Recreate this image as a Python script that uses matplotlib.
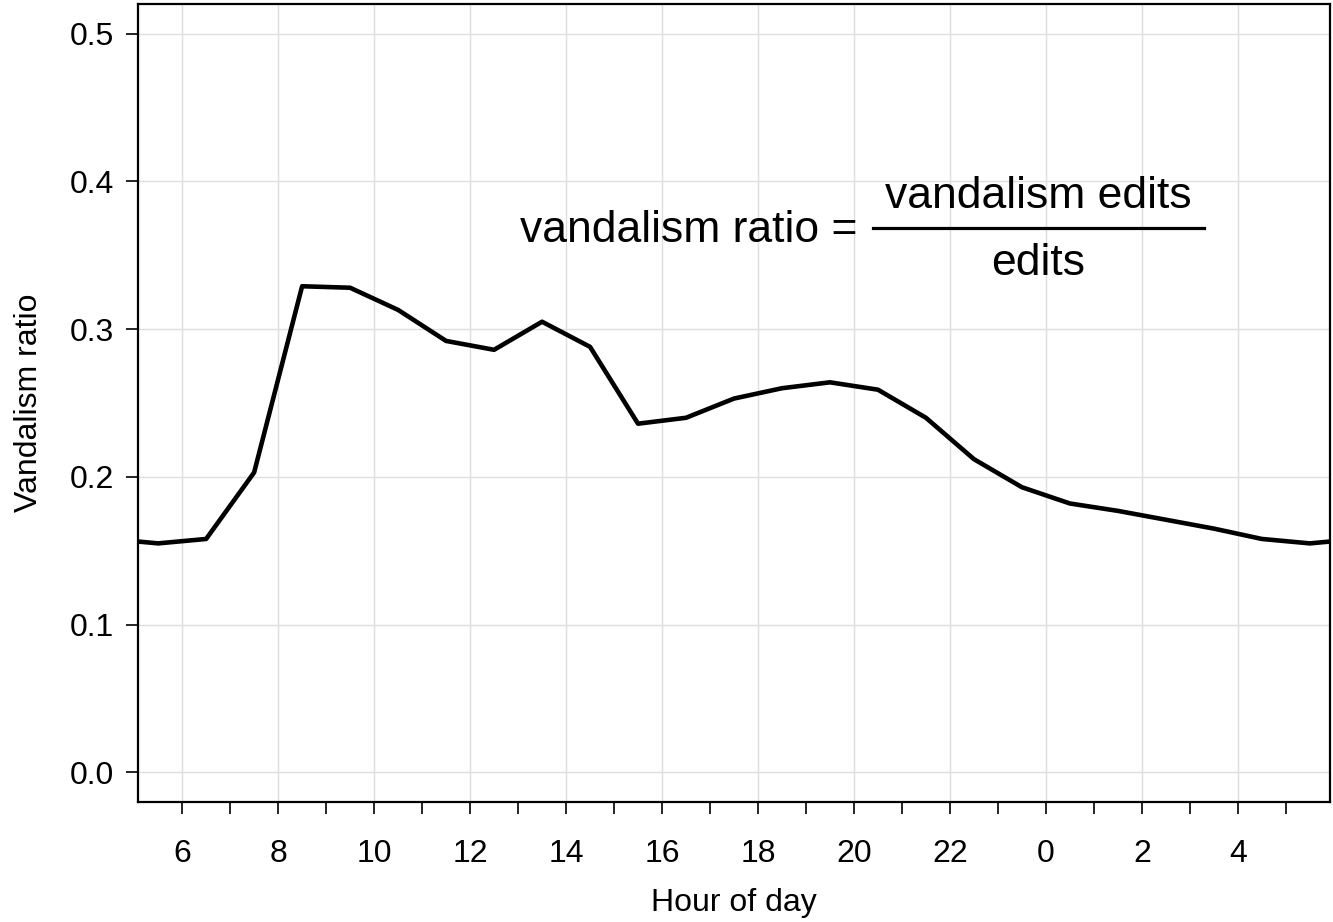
import numpy as np
import matplotlib
matplotlib.use("Agg")
import matplotlib.pyplot as plt

plt.rcParams['font.family'] = ['Liberation Sans', 'DejaVu Sans']

# hour of day (half-hour centres), continued past midnight as 24+
hours = [4.5, 5.5, 6.5, 7.5, 8.5, 9.5, 10.5, 11.5, 12.5, 13.5, 14.5, 15.5, 16.5,
         17.5, 18.5, 19.5, 20.5, 21.5, 22.5, 23.5, 24.5, 25.5, 26.5, 27.5,
         28.5, 29.5, 30.5]
ratio = [0.158, 0.155, 0.158, 0.203, 0.329, 0.328, 0.313, 0.292, 0.286, 0.305,
         0.288, 0.236, 0.240, 0.253, 0.260, 0.264, 0.259, 0.240, 0.212, 0.193,
         0.182, 0.177, 0.171, 0.165, 0.158, 0.155, 0.158]

major_ticks = [6, 8, 10, 12, 14, 16, 18, 20, 22, 24, 26, 28]
major_labels = ['6', '8', '10', '12', '14', '16', '18', '20', '22', '0', '2', '4']
minor_ticks = [7, 9, 11, 13, 15, 17, 19, 21, 23, 25, 27, 29]
y_ticks = [0.0, 0.1, 0.2, 0.3, 0.4, 0.5]

fig = plt.figure(figsize=(13.33, 9.22), dpi=100)
ax = fig.add_axes([138 / 1333, 120 / 922, 1192 / 1333, 798 / 922])

ax.plot(hours, ratio, color='black', linewidth=3.3, solid_joinstyle='round')

ax.set_xlim(5.08, 29.92)
ax.set_ylim(-0.02, 0.52)

ax.set_xticks(major_ticks)
ax.set_xticklabels(major_labels)
ax.set_xticks(minor_ticks, minor=True)
ax.set_yticks(y_ticks)
ax.set_yticklabels(['%.1f' % v for v in y_ticks])

ax.grid(True, which='major', color='#dedede', linewidth=1.0)
ax.set_axisbelow(True)

ax.tick_params(axis='both', which='both', length=8.5, width=1.2, color='black',
               labelsize=23)
ax.tick_params(axis='x', which='major', pad=18)
ax.tick_params(axis='y', which='major', pad=9)
ax.tick_params(axis='x', which='minor', length=8.5)

for s in ax.spines.values():
    s.set_linewidth(1.6)

ax.set_xlabel('Hour of day', fontsize=23, labelpad=14)
ax.set_ylabel('Vandalism ratio', fontsize=23, labelpad=18)

# formula annotation
aw, ah = 1192.0, 798.0
def fx(px):
    return (px - 138) / aw
def fy(py):
    return (802 - py) / ah

ax.text(fx(858), fy(242), 'vandalism ratio =', transform=ax.transAxes,
        fontsize=32, ha='right', va='baseline')
ax.text(fx(1038), fy(208), 'vandalism edits', transform=ax.transAxes,
        fontsize=32, ha='center', va='baseline')
ax.text(fx(1038), fy(275), 'edits', transform=ax.transAxes,
        fontsize=32, ha='center', va='baseline')
ax.plot([fx(873), fx(1204)], [fy(228), fy(228)], transform=ax.transAxes,
        color='black', linewidth=2.3, clip_on=False)

fig.savefig('out.png', dpi=100)
